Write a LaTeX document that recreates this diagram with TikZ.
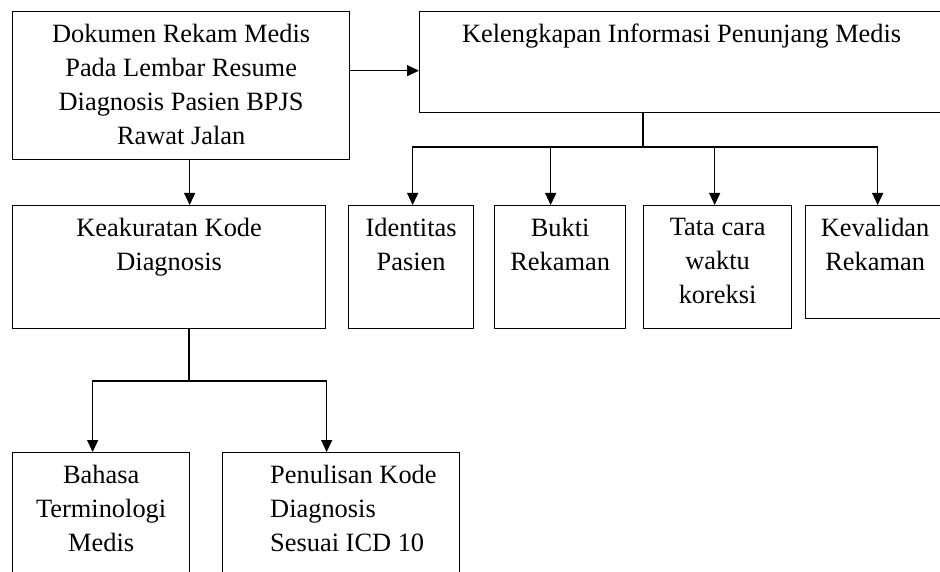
\documentclass[tikz,border=0pt]{standalone}
\usepackage{fontspec}
\setmainfont{Liberation Serif}
\usetikzlibrary{arrows.meta, positioning}

\begin{document}
\begin{tikzpicture}[
  x=1pt, y=-1pt,
  box/.style={rectangle, draw=black, line width=1.3pt, anchor=north west, inner sep=0pt},
  txt/.style={align=center, inner sep=0pt, font=\fontsize{26.4pt}{34pt}\selectfont},
  arr/.style={-{Triangle[length=12pt, width=11pt]}, line width=1.3pt},
  wire/.style={line width=1.3pt},
]
\useasboundingbox (0,0) rectangle (940,572);
\clip (0,0) rectangle (940,572);

%% Boxes
\node[box, minimum width=337pt, minimum height=148pt] (doc)       at (12,11)  {};
\node[box, minimum width=524pt, minimum height=101pt] (lengkap)   at (419,11) {};
\node[box, minimum width=313pt, minimum height=123pt] (akurat)    at (12,205) {};
\node[box, minimum width=125pt, minimum height=123pt] (identitas) at (348,205) {};
\node[box, minimum width=131pt, minimum height=123pt] (bukti)     at (494,205) {};
\node[box, minimum width=148pt, minimum height=123pt] (tata)      at (643,205) {};
\node[box, minimum width=139pt, minimum height=113pt] (valid)     at (805,205) {};
\node[box, minimum width=177pt, minimum height=150pt] (bahasa)    at (12,452) {};
\node[box, minimum width=237pt, minimum height=150pt] (penulisan) at (222,452) {};

%% Texts
\node[txt, below=12.7pt of doc.north]       (docT)       {Dokumen Rekam Medis\\Pada Lembar Resume\\Diagnosis Pasien BPJS\\Rawat Jalan};
\node[txt, below=12.7pt of lengkap.north]   (lengkapT)   {Kelengkapan Informasi Penunjang Medis};
\node[txt, below=12.7pt of akurat.north]    (akuratT)    {Keakuratan Kode\\Diagnosis};
\node[txt, below=12.7pt of identitas.north] (identitasT) {Identitas\\Pasien};
\node[txt, below=12.7pt of bukti.north]     (buktiT)     {Bukti\\Rekaman};
\node[txt, below=12.7pt of tata.north]      (tataT)      {Tata cara\\waktu\\koreksi};
\node[txt, below=12.7pt of valid.north]     (validT)     {Kevalidan\\Rekaman};
\node[txt, below=12.7pt of bahasa.north]    (bahasaT)    {Bahasa\\Terminologi\\Medis};
\node[txt, align=left, below right=12.7pt and 48pt of penulisan.north west] (penulisanT) {Penulisan Kode\\Diagnosis\\Sesuai ICD 10};

%% Connectors
\draw[arr] ([yshift=15pt]doc.east) -- ([yshift=15pt]doc.east -| lengkap.west);
\draw[arr] ([xshift=8.5pt]doc.south) -- ([xshift=8.5pt]doc.south |- akurat.north);

\coordinate (split1) at (643,147);
\draw[wire] (split1 |- lengkap.south) -- (split1);
\draw[arr] (split1) -| ([xshift=1.5pt]identitas.north);
\draw[arr] (split1) -| ([xshift=-9.5pt]bukti.north);
\draw[arr] (split1) -| ([xshift=-3pt]tata.north);
\draw[arr] (split1) -| ([xshift=2.5pt]valid.north);

\coordinate (split2) at (189,381);
\draw[wire] (split2 |- akurat.south) -- (split2);
\draw[arr] (split2) -| ([xshift=-8.5pt]bahasa.north);
\draw[arr] (split2) -| ([xshift=-14.5pt]penulisan.north);
\end{tikzpicture}
\end{document}
